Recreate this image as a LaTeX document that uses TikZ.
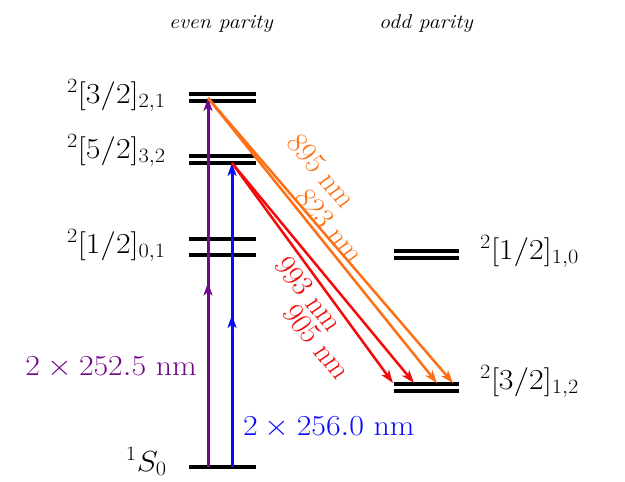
\RequirePackage{fix-cm}
\documentclass[tikz,border=0pt]{standalone}
\usetikzlibrary{arrows.meta,decorations.markings}
\definecolor{cpurple}{RGB}{112,8,140}
\definecolor{cblue}{RGB}{10,10,250}
\definecolor{cred}{RGB}{245,10,10}
\definecolor{corange}{RGB}{255,112,20}
\begin{document}
\begin{tikzpicture}[x=1pt,y=-1pt,
  lvl/.style={line width=3.3pt,black},
  lbl/.style={inner sep=0pt,xscale=1.1,font=\fontsize{29}{34}\selectfont},
  rlbl/.style={inner sep=0pt,font=\fontsize{28.5}{33}\selectfont},
  ttl/.style={inner sep=0pt,xscale=1.1,font=\fontsize{20}{24}\selectfont\itshape},
  tip/.style={-{Stealth[length=13pt,width=9pt,inset=3.5pt]}},
  exc/.style={tip,line width=3pt,postaction={decorate},
    decoration={markings,mark=at position 0.5 with {\arrow{Stealth[length=13pt,width=9pt,inset=3.5pt]}}}},
  dec/.style={tip,line width=2.5pt}
]
\useasboundingbox (0,0) rectangle (625,482);
% titles
\node[ttl,anchor=base] (te) at (221,28) {even parity};
\node[ttl,anchor=base] (to) at (426,28) {odd parity};
% even levels
\coordinate (a1) at (189,94);  \coordinate (a2) at (256,94);
\coordinate (b1) at (189,101); \coordinate (b2) at (256,101);
\coordinate (c1) at (189,156); \coordinate (c2) at (256,156);
\coordinate (d1) at (189,163); \coordinate (d2) at (256,163);
\coordinate (e1) at (189,239); \coordinate (e2) at (256,239);
\coordinate (f1) at (189,255); \coordinate (f2) at (256,255);
\coordinate (g1) at (189,467); \coordinate (g2) at (256,467);
% odd levels
\coordinate (h1) at (394,251); \coordinate (h2) at (459,251);
\coordinate (i1) at (394,258); \coordinate (i2) at (459,258);
\coordinate (j1) at (394,384); \coordinate (j2) at (459,384);
\coordinate (k1) at (394,391); \coordinate (k2) at (459,391);
\foreach \p in {a,b,c,d,e,f,g,h,i,j,k}{\draw[lvl] (\p1) -- (\p2);}
% level labels
\node[lbl,anchor=base east] (L1) at (166,103) {$^2[3/2]_{2,1}$};
\node[lbl,anchor=base east] (L2) at (166,158) {$^2[5/2]_{3,2}$};
\node[lbl,anchor=base east] (L3) at (166,253) {$^2[1/2]_{0,1}$};
\node[lbl,anchor=base east] (L4) at (167,471) {$^1S_0$};
\node[lbl,anchor=base west] (R1) at (480,259) {$^2[1/2]_{1,0}$};
\node[lbl,anchor=base west] (R2) at (480,389) {$^2[3/2]_{1,2}$};
% excitation arrows
\coordinate (pS) at (208,467); \coordinate (pT) at (208,98);
\coordinate (bS) at (232,467); \coordinate (bT) at (232,163);
\draw[exc,cpurple] (pS) -- (pT);
\draw[exc,cblue] (bS) -- (bT);
\node[lbl,anchor=base east,text=cpurple] (wp) at (197,375) {$2\times 252.5$ nm};
\node[lbl,anchor=base west,text=cblue] (wb) at (243,435) {$2\times 256.0$ nm};
% decay arrows
\coordinate (o1) at (437,383); \coordinate (o2) at (453,383);
\coordinate (r1) at (393,383); \coordinate (r2) at (414,383);
\draw[dec,corange] (pT) -- (o1);
\draw[dec,corange] (pT) -- (o2);
\draw[dec,cred] (bT) -- (r1);
\draw[dec,cred] (bT) -- (r2);
\node[rlbl,xscale=1.1,rotate=-51.5,text=corange] (n895) at (322,171) {895 nm};
\node[rlbl,xscale=1.1,rotate=-51.5,text=corange] (n823) at (330,226) {823 nm};
\node[rlbl,xscale=1.1,rotate=-53.5,text=cred] (n993) at (309,294) {993 nm};
\node[rlbl,xscale=1.1,rotate=-53.5,text=cred] (n905) at (317,342) {905 nm};
\end{tikzpicture}
\end{document}
